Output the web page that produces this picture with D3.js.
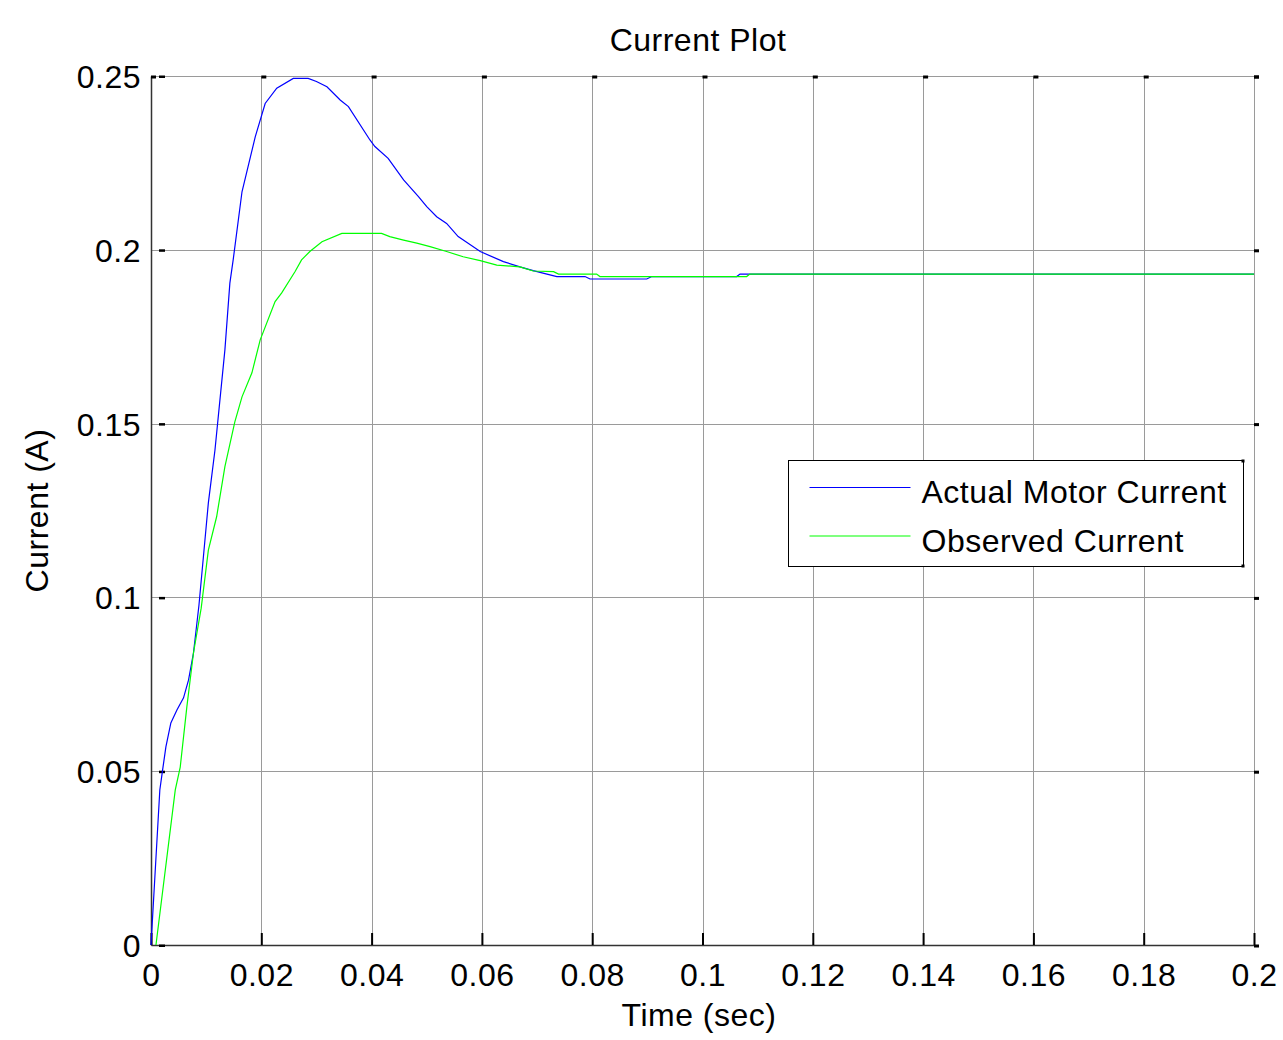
<!DOCTYPE html>
<html>
<head>
<meta charset="utf-8">
<script src="https://cdn.jsdelivr.net/npm/d3@7"></script>
<style>
  body { margin: 0; background: #fff; }
  svg text { font-family: "Liberation Sans", Arial, sans-serif; fill: #000; letter-spacing: 0.5px; }
</style>
</head>
<body>
<svg id="chart" width="1283" height="1040"></svg>
<script>
const actualCurrent = [
  [0, 0], [0.0016, 0.0446], [0.0021, 0.0503], [0.0027, 0.057], [0.0036, 0.0639],
  [0.0047, 0.0676], [0.0059, 0.0711], [0.0068, 0.0762], [0.0077, 0.084], [0.0087, 0.0978],
  [0.0104, 0.1272], [0.0116, 0.1424], [0.0134, 0.1712], [0.0143, 0.1904], [0.0149, 0.1971],
  [0.0165, 0.2167], [0.0189, 0.2325], [0.0207, 0.2421], [0.0228, 0.2465], [0.0258, 0.2493],
  [0.0285, 0.2493], [0.03, 0.2484], [0.0319, 0.2469], [0.0343, 0.2431], [0.0358, 0.2412],
  [0.0397, 0.2316], [0.0406, 0.2297], [0.043, 0.2263], [0.0458, 0.2201], [0.0485, 0.2153],
  [0.05, 0.2124], [0.0518, 0.2095], [0.0536, 0.2076], [0.0557, 0.2038], [0.0575, 0.2019],
  [0.0597, 0.1995], [0.0639, 0.1966], [0.0669, 0.1951], [0.0693, 0.194], [0.0718, 0.193],
  [0.0736, 0.1923], [0.0787, 0.1923], [0.0796, 0.1916], [0.0899, 0.1916], [0.0908, 0.1923],
  [0.1062, 0.1923], [0.1068, 0.193], [0.2, 0.193]
];

const observedCurrent = [
  [0.0009, 0], [0.0044, 0.0446], [0.0053, 0.0512], [0.0065, 0.0685], [0.0077, 0.084],
  [0.0091, 0.0969], [0.0104, 0.1136], [0.0119, 0.1232], [0.0134, 0.1376], [0.0152, 0.1505],
  [0.0165, 0.1577], [0.0183, 0.1646], [0.0198, 0.1741], [0.0225, 0.1851], [0.0237, 0.1876],
  [0.0261, 0.1937], [0.0273, 0.1971], [0.0288, 0.1995], [0.031, 0.2023], [0.0346, 0.2047],
  [0.0418, 0.2047], [0.0433, 0.2038], [0.0458, 0.2028], [0.0482, 0.2019], [0.0506, 0.2009],
  [0.0536, 0.1995], [0.0566, 0.198], [0.0597, 0.1969], [0.0627, 0.1956], [0.0669, 0.1951],
  [0.0693, 0.1939], [0.073, 0.1937], [0.0739, 0.193], [0.0808, 0.193], [0.0814, 0.1923],
  [0.108, 0.1923], [0.1086, 0.193], [0.2, 0.193]
];

const xTicks = [0, 0.02, 0.04, 0.06, 0.08, 0.1, 0.12, 0.14, 0.16, 0.18, 0.2];
const yTicks = [0, 0.05, 0.1, 0.15, 0.2, 0.25];
const seriesNames = ["Actual Motor Current", "Observed Current"];
const seriesColors = ["#0000ff", "#00ff00"];

const margin = { top: 76, right: 29, bottom: 95, left: 151 };
const width = 1283, height = 1040;
const fontSize = "32px";

const svg = d3.select("#chart");

const x = d3.scaleLinear().domain([0, 0.2]).range([margin.left, width - margin.right]);
const y = d3.scaleLinear().domain([0, 0.25]).range([height - margin.bottom, margin.top]);

// Gitterlinien
svg.append("g")
  .selectAll("line")
  .data(xTicks)
  .join("line")
  .attr("x1", d => Math.round(x(d)) + 0.5)
  .attr("x2", d => Math.round(x(d)) + 0.5)
  .attr("y1", y(0))
  .attr("y2", y(0.25))
  .attr("stroke", "#9a9a9a")
  .attr("stroke-width", 1);

svg.append("g")
  .selectAll("line")
  .data(yTicks)
  .join("line")
  .attr("x1", x(0))
  .attr("x2", x(0.2))
  .attr("y1", d => Math.round(y(d)) + 0.5)
  .attr("y2", d => Math.round(y(d)) + 0.5)
  .attr("stroke", "#9a9a9a")
  .attr("stroke-width", 1);

// Achsen links und unten
const xAxis = d3.axisBottom(x).tickValues(xTicks).tickFormat(d3.format("")).tickSize(0).tickPadding(18);
const yAxis = d3.axisLeft(y).tickValues(yTicks).tickFormat(d3.format("")).tickSize(0).tickPadding(10);

const gx = svg.append("g")
  .attr("transform", `translate(0,${height - margin.bottom})`)
  .call(xAxis);
const gy = svg.append("g")
  .attr("transform", `translate(${margin.left},0)`)
  .call(yAxis);

[gx, gy].forEach(g => {
  g.select(".domain").attr("stroke", "#333").attr("stroke-width", 1.5);
  g.selectAll("text")
    .style("font-size", fontSize)
    .style("font-family", '"Liberation Sans", Arial, sans-serif')
    .attr("fill", "#000");
});
gx.selectAll("text").attr("dy", "0.71em");
gy.selectAll("text").attr("dy", "0.36em");

// kleine Tick-Markierungen nach innen
const tickG = svg.append("g").attr("fill", "#000");
tickG.selectAll(".tb")
  .data(xTicks)
  .join("rect")
  .attr("x", d => x(d) - 0.5)
  .attr("y", y(0) - 12)
  .attr("width", 2)
  .attr("height", 12);
tickG.selectAll(".tt")
  .data(xTicks)
  .join("rect")
  .attr("x", d => x(d))
  .attr("y", y(0.25) - 0.5)
  .attr("width", 5)
  .attr("height", 3);
tickG.selectAll(".tl")
  .data(yTicks)
  .join("rect")
  .attr("x", x(0) + 8)
  .attr("y", d => y(d) - 0.5)
  .attr("width", 6)
  .attr("height", 2.5);
tickG.selectAll(".tr")
  .data(yTicks)
  .join("rect")
  .attr("x", x(0.2))
  .attr("y", d => y(d) - 0.5)
  .attr("width", 5)
  .attr("height", 3);

// Kurven
const line = d3.line().x(d => x(d[0])).y(d => y(d[1]));

svg.append("path")
  .datum(actualCurrent)
  .attr("d", line)
  .attr("fill", "none")
  .attr("stroke", seriesColors[0])
  .attr("stroke-width", 1.2);

svg.append("path")
  .datum(observedCurrent)
  .attr("d", line)
  .attr("fill", "none")
  .attr("stroke", seriesColors[1])
  .attr("stroke-width", 1.2);

// Titel und Achsenbeschriftungen
svg.append("text")
  .attr("x", 698)
  .attr("y", 51)
  .attr("text-anchor", "middle")
  .style("font-size", fontSize)
  .text("Current Plot");

svg.append("text")
  .attr("x", 699)
  .attr("y", 1026)
  .attr("text-anchor", "middle")
  .style("font-size", fontSize)
  .text("Time (sec)");

svg.append("text")
  .attr("transform", `translate(48,${(y(0) + y(0.25)) / 2}) rotate(-90)`)
  .attr("text-anchor", "middle")
  .style("font-size", fontSize)
  .text("Current (A)");

// Legende
const legend = svg.append("g").attr("transform", "translate(788.5,460.5)");
legend.append("rect")
  .attr("width", 455)
  .attr("height", 106)
  .attr("fill", "#fff")
  .attr("stroke", "#000")
  .attr("stroke-width", 1);
legend.append("rect").attr("x", 453).attr("y", -1).attr("width", 3).attr("height", 3).attr("fill", "#000");
legend.append("rect").attr("x", 453).attr("y", 104).attr("width", 3).attr("height", 3).attr("fill", "#000");

const items = legend.selectAll(".item")
  .data(seriesNames)
  .join("g")
  .attr("transform", (d, i) => `translate(0,${27 + i * 48.5})`);
items.append("line")
  .attr("x1", 21)
  .attr("x2", 122)
  .attr("stroke", (d, i) => seriesColors[i])
  .attr("stroke-width", 1.2);
items.append("text")
  .attr("x", 133)
  .attr("y", 15.5)
  .style("font-size", fontSize)
  .text(d => d);
</script>
</body>
</html>
